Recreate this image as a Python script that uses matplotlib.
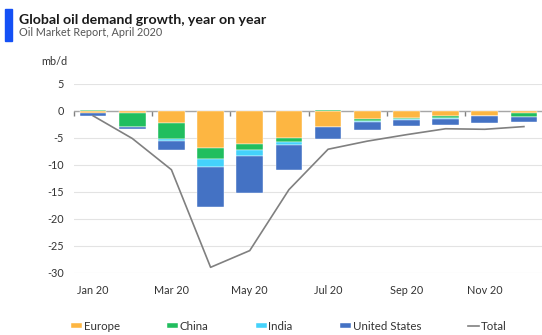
import matplotlib
matplotlib.use("Agg")
import matplotlib.pyplot as plt
from matplotlib.patches import Rectangle
import numpy as np

plt.rcParams['font.family'] = ['Lato', 'DejaVu Sans']

months = ["Jan 20", "Feb 20", "Mar 20", "Apr 20", "May 20", "Jun 20",
          "Jul 20", "Aug 20", "Sep 20", "Oct 20", "Nov 20", "Dec 20"]
europe = [-0.40, -0.35, -2.30, -6.90, -6.10, -5.05, -3.00, -1.55, -1.25, -0.85, -0.90, -0.40]
china = [0.10, -2.55, -2.90, -2.10, -1.10, -0.75, 0.10, -0.30, -0.25, -0.45, -0.05, -0.70]
india = [0.15, -0.10, -0.45, -1.35, -1.10, -0.45, -0.05, -0.20, -0.20, -0.15, -0.05, -0.10]
united_states = [-0.45, -0.30, -1.55, -7.45, -7.00, -4.70, -2.20, -1.50, -1.10, -1.10, -1.30, -0.90]
total = [-0.9, -5.1, -10.9, -29.0, -25.9, -14.6, -7.1, -5.6, -4.4, -3.3, -3.4, -2.9]

y_ticks = [5, 0, -5, -10, -15, -20, -25, -30]

series = [("Europe", europe, "#FDB642"),
          ("China", china, "#21BE5E"),
          ("India", india, "#44D2FB"),
          ("United States", united_states, "#4472C4")]

fig = plt.figure(figsize=(5.42, 3.35), dpi=100)
W, H = 542, 335
left_px, right_px, top_px, bot_px = 73.5, 543.5, 84.0, 272.7
ax = fig.add_axes([left_px / W, 1 - bot_px / H, (right_px - left_px) / W, (bot_px - top_px) / H])

x = np.arange(len(months))
pos_base = np.zeros(len(months))
neg_base = np.zeros(len(months))
handles = []
for name, vals, color in series:
    v = np.array(vals)
    base = np.where(v >= 0, pos_base, neg_base)
    bars = ax.bar(x, v, bottom=base, width=0.68, color=color, label=name,
                  edgecolor="white", linewidth=0.3, zorder=3)
    handles.append(bars)
    pos_base = pos_base + np.where(v >= 0, v, 0)
    neg_base = neg_base + np.where(v < 0, v, 0)

line, = ax.plot(x, total, color="#808080", linewidth=1.2, label="Total", zorder=4)
handles.append(line)

ax.set_xlim(-0.5, len(months) - 0.5)
ax.set_ylim(-30, 5)
ax.set_yticks(y_ticks)
ax.set_yticklabels([str(t) for t in y_ticks])
ax.set_xticks(x[::2])
ax.set_xticklabels(months[::2])
ax.tick_params(axis='both', length=0, labelsize=7.8, colors="#333333")
ax.tick_params(axis='x', pad=9)
ax.tick_params(axis='y', pad=7)
ax.grid(axis='y', color="#e3e3e3", linewidth=0.8, zorder=0)
for s in ax.spines.values():
    s.set_visible(False)

# zero line with category tick marks
ax.axhline(0, color="#a6a6a6", linewidth=1.0, zorder=2)
zero_frac = (0 - ax.get_ylim()[0]) / (ax.get_ylim()[1] - ax.get_ylim()[0])
sec = ax.secondary_xaxis(zero_frac)
sec.set_xticks(np.arange(-0.5, len(months) - 0.5, 2))
sec.tick_params(axis='x', direction='in', length=3.5, width=1.0, color="#808080",
                labeltop=False, labelbottom=False)
for s in sec.spines.values():
    s.set_visible(False)

ax.text(-0.068, 1.12, "mb/d", transform=ax.transAxes, fontsize=7.8,
        color="#333333", ha='left', va='center')

# header
fig.add_artist(Rectangle((5 / W, 1 - 40.5 / H), 7 / W, 32 / H,
                         transform=fig.transFigure, color="#1450F5"))
fig.text(19 / W, 1 - 23.5 / H, "Global oil demand growth, year on year",
         fontsize=10.2, fontweight='bold', color="#1a1a1a", va='baseline')
fig.text(19 / W, 1 - 35.5 / H, "Oil Market Report, April 2020",
         fontsize=7.8, color="#555555", va='baseline')

leg = fig.legend(handles=handles, labels=[h.get_label() for h in handles],
                 loc='center left', bbox_to_anchor=(71 / W, 1 - 326 / H), ncol=5,
                 frameon=False, fontsize=8.3, handlelength=0.95, handleheight=0.35,
                 handletextpad=0.15, columnspacing=4.1, borderaxespad=0, borderpad=0)
for t in leg.get_texts():
    t.set_color("#333333")

fig.savefig("out.png", dpi=100)
